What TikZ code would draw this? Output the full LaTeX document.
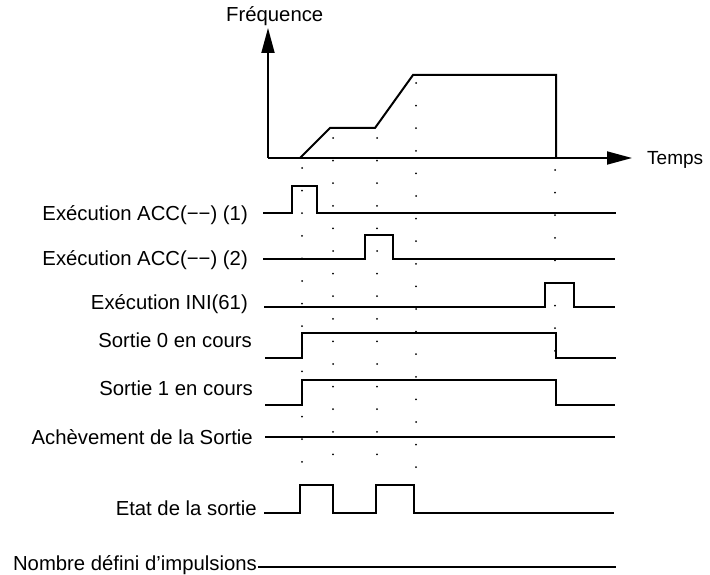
\documentclass[tikz,border=0pt]{standalone}
\usepackage{fontspec}
\setmainfont{Liberation Sans}
\usetikzlibrary{arrows.meta}
\begin{document}
\begin{tikzpicture}[x=1pt,y=-1pt,
  lbl/.style={anchor=base east,inner sep=0pt,font=\fontsize{20.3}{24}\selectfont},
  sig/.style={line width=1.8pt,line join=miter},
  axis/.style={line width=1.8pt,-{Triangle[length=25pt,width=13pt]}},
  dots/.style={line width=2pt,line cap=round,dash pattern=on 0pt off 22.6pt}]
\useasboundingbox (0,0) rectangle (710,575);
% dotted guides
\draw[dots] (302,168) -- (302,476);
\draw[dots] (333,138) -- (333,476);
\draw[dots] (377,138) -- (377,476);
\draw[dots] (416,83) -- (416,476);
\draw[dots] (555,170) -- (555,372);
% axes
\coordinate (o) at (268,158);
\coordinate (ytop) at (268,28);
\coordinate (xend) at (632,158);
\draw[axis] (o) -- (ytop);
\draw[axis] (o) -- (xend);
\node[anchor=base west,inner sep=0pt,font=\fontsize{20.3}{24}\selectfont] (freq) at (226,22) {Fréquence};
\node[anchor=base west,inner sep=0pt,font=\fontsize{19}{24}\selectfont] (temps) at (647,165) {Temps};
% frequency profile
\draw[sig,line width=2pt] (300,158) -- (330,128) -- (375,128) -- (413,75) -- (556,75) -- (556,158);
% labels
\node[lbl] (l1) at (248,220) {Exécution ACC(−−) (1)};
\node[lbl] (l2) at (248,265) {Exécution ACC(−−) (2)};
\node[lbl] (l3) at (248,309) {Exécution INI(61)};
\node[lbl] (l4) at (252,347) {Sortie 0 en cours};
\node[lbl] (l5) at (253,395) {Sortie 1 en cours};
\node[lbl] (l6) at (253,444) {Achèvement de la Sortie};
\node[lbl] (l7) at (257,515) {Etat de la sortie};
\node[lbl] (l8) at (257,570) {Nombre défini d’impulsions};
% signals
\draw[sig] (263,213) -- (292,213) -- (292,186) -- (317,186) -- (317,213) -- (616,213);
\draw[sig] (263,259) -- (365,259) -- (365,235) -- (393,235) -- (393,259) -- (615,259);
\draw[sig] (264,307) -- (545,307) -- (545,283) -- (574,283) -- (574,307) -- (615,307);
\draw[sig] (265,358) -- (302,358) -- (302,333) -- (556,333) -- (556,358) -- (616,358);
\draw[sig] (265,405) -- (302,405) -- (302,380) -- (556,380) -- (556,405) -- (615,405);
\draw[sig] (265,437) -- (615,437);
\draw[sig] (264,513) -- (300,513) -- (300,485) -- (333,485) -- (333,513) -- (376,513) -- (376,485) -- (414,485) -- (414,513) -- (614,513);
\draw[sig] (258,567) -- (616,567);
\end{tikzpicture}
\end{document}
